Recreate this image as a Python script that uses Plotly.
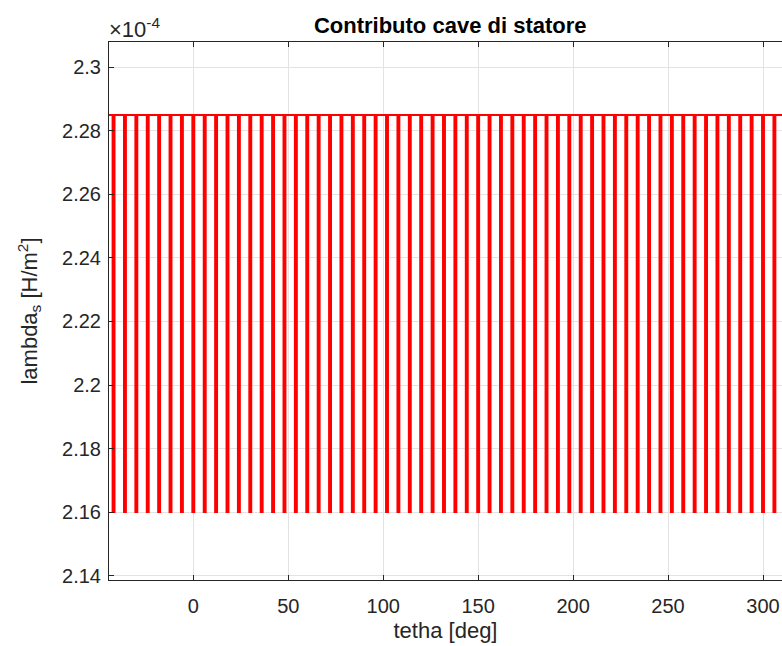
import plotly.graph_objects as go

# Stator slot contribution to the air-gap permeance
theta_start = -44.4          # deg
theta_end = 310.0            # deg
slot_centers = [-42, -36, -30, -24, -18, -12, -6, 0, 6, 12, 18, 24, 30, 36, 42,
                48, 54, 60, 66, 72, 78, 84, 90, 96, 102, 108, 114, 120, 126, 132,
                138, 144, 150, 156, 162, 168, 174, 180, 186, 192, 198, 204, 210,
                216, 222, 228, 234, 240, 246, 252, 258, 264, 270, 276, 282, 288,
                294, 300, 306]
slot_opening = 1.0           # deg
lambda_tooth = 2.285e-4      # H/m^2 under a tooth
lambda_slot = 2.160e-4       # H/m^2 under a slot opening

y_tickvals = [2.14e-4, 2.16e-4, 2.18e-4, 2.20e-4, 2.22e-4, 2.24e-4, 2.26e-4, 2.28e-4, 2.30e-4]
y_ticktext = ["2.14", "2.16", "2.18", "2.2", "2.22", "2.24", "2.26", "2.28", "2.3"]
x_tickvals = [0, 50, 100, 150, 200, 250, 300]

# Build the stepped permeance profile
theta = [theta_start]
lam = [lambda_tooth]
for c in slot_centers:
    a, b = c - slot_opening / 2, c + slot_opening / 2
    theta += [a, a, b, b]
    lam += [lambda_tooth, lambda_slot, lambda_slot, lambda_tooth]
theta.append(theta_end)
lam.append(lambda_tooth)

axis_col = "#262626"
grid_col = "#e3e3e3"
font_family = "Liberation Sans, Arial, Helvetica, sans-serif"

fig = go.Figure(go.Scatter(
    x=theta, y=lam, mode="lines",
    line=dict(color="#ff0000", width=2),
    hoverinfo="skip", showlegend=False,
))

fig.update_layout(
    width=782, height=646,
    margin=dict(l=109, r=0, t=42, b=66),
    paper_bgcolor="white", plot_bgcolor="white",
    font=dict(family=font_family, color=axis_col, size=20),
    title=dict(text="<b>Contributo cave di statore</b>", xref="paper", x=0.507,
               xanchor="center", y=1 - 25 / 646, yanchor="middle",
               font=dict(size=22, color="#000000", family=font_family)),
    xaxis=dict(
        range=[theta_start, theta_end], tickvals=x_tickvals,
        showgrid=True, gridcolor=grid_col, gridwidth=1, zeroline=False,
        showline=True, linecolor=axis_col, linewidth=1, mirror="ticks",
        ticks="inside", ticklen=5, tickcolor=axis_col, ticklabelstandoff=8,
        tickfont=dict(size=20, color=axis_col),
        title=dict(text="tetha [deg]", font=dict(size=22, color=axis_col), standoff=6),
    ),
    yaxis=dict(
        range=[2.1386e-4, 2.308e-4], tickvals=y_tickvals, ticktext=y_ticktext,
        showgrid=True, gridcolor=grid_col, gridwidth=1, zeroline=False,
        showline=True, linecolor=axis_col, linewidth=1,
        ticks="inside", ticklen=5, tickcolor=axis_col, ticklabelstandoff=3,
        tickfont=dict(size=20, color=axis_col),
        title=dict(text="lambda<sub>s</sub> [H/m<sup>2</sup>]",
                   font=dict(size=22, color=axis_col), standoff=18),
    ),
    annotations=[dict(
        text="×10<sup>-4</sup>", xref="paper", yref="paper",
        x=0, y=1, xanchor="left", yanchor="bottom", yshift=-2, xshift=-2,
        showarrow=False, font=dict(size=22, color=axis_col),
    )],
)

fig.write_html("out.html")
